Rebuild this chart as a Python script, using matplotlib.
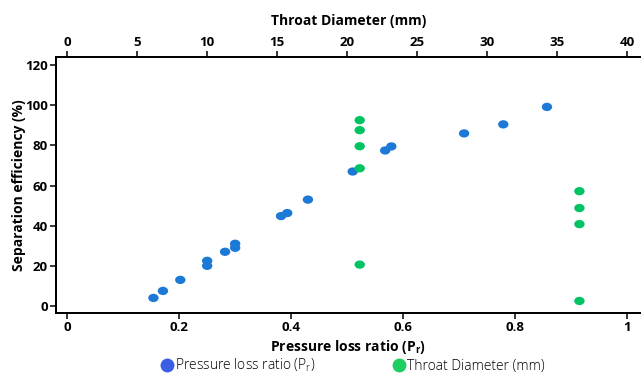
import numpy as np
import matplotlib
matplotlib.use("Agg")
import matplotlib.pyplot as plt
from matplotlib.lines import Line2D
from matplotlib.path import Path
from matplotlib.transforms import Affine2D

plt.rcParams['font.family'] = ['Open Sans', 'DejaVu Sans']
plt.rcParams['mathtext.default'] = 'regular'

# pressure loss ratio series (bottom axis)
pr_x = [0.154, 0.171, 0.202, 0.250, 0.250, 0.282, 0.300, 0.300,
        0.382, 0.393, 0.430, 0.510, 0.568, 0.579, 0.709, 0.779, 0.857]
pr_y = [4.0, 7.5, 13.0, 20.0, 22.5, 27.0, 29.0, 31.0,
        44.8, 46.3, 53.0, 67.0, 77.5, 79.5, 86.0, 90.5, 99.2]

# throat diameter series (top axis)
td_x = [20.9, 20.9, 20.9, 20.9, 20.9, 36.6, 36.6, 36.6, 36.6]
td_y = [92.6, 87.6, 79.6, 68.6, 20.6, 57.2, 48.8, 40.8, 2.5]

bottom_ticks = [0, 0.2, 0.4, 0.6, 0.8, 1]
bottom_labels = ['0', '0.2', '0.4', '0.6', '0.8', '1']
top_ticks = [0, 5, 10, 15, 20, 25, 30, 35, 40]
y_ticks = [0, 20, 40, 60, 80, 100, 120]

blue = '#1c7ad6'
green = '#00c463'

# slightly flattened dot like the original
ellipse = Path.unit_circle().transformed(Affine2D().scale(1.0, 0.8))

fig = plt.figure(figsize=(6.41, 3.76), dpi=100)
ax = fig.add_axes([0.0874, 0.1676, 0.9126, 0.6804])
ax.scatter(pr_x, pr_y, s=56, marker=ellipse, color=blue, edgecolors='none', zorder=3)
ax.set_xlim(-0.02, 1.025)
ax.set_ylim(-3.5, 124)
ax.set_xticks(bottom_ticks)
ax.set_xticklabels(bottom_labels)
ax.set_yticks(y_ticks)
ax.set_xlabel('Pressure loss ratio (P$_r$)', fontsize=10, fontweight='bold', labelpad=3)
ax.set_ylabel('Separation efficiency (%)', fontsize=10, fontweight='bold', labelpad=-1)

ax2 = ax.twiny()
ax2.scatter(td_x, td_y, s=56, marker=ellipse, color=green, edgecolors='none', zorder=3)
ax2.set_xlim(-0.8, 41.0)
ax2.set_xticks(top_ticks)
ax2.set_xlabel('Throat Diameter (mm)', fontsize=10, fontweight='bold', labelpad=8)

for a in (ax, ax2):
    a.spines['right'].set_visible(False)
    for s in ('left', 'bottom', 'top'):
        a.spines[s].set_linewidth(1.3)
    a.tick_params(width=1.1, length=4, labelsize=9.5, pad=2)
    for lab in a.get_xticklabels() + a.get_yticklabels():
        lab.set_fontweight('bold')
ax.tick_params(right=False)

handles = [
    Line2D([], [], marker='o', linestyle='none', markersize=10,
           markerfacecolor='#3a5fe6', markeredgecolor='none', label='Pressure loss ratio (P$_r$)'),
    Line2D([], [], marker='o', linestyle='none', markersize=10,
           markerfacecolor='#1fce63', markeredgecolor='none', label='Throat Diameter (mm)'),
]
fig.legend(handles=handles, loc='lower center', bbox_to_anchor=(0.55, -0.028), ncol=2,
           frameon=False, handletextpad=0.1, columnspacing=5.5,
           handlelength=1.0, prop={'weight': 'light', 'size': 10})

fig.savefig('out.png', dpi=100)
